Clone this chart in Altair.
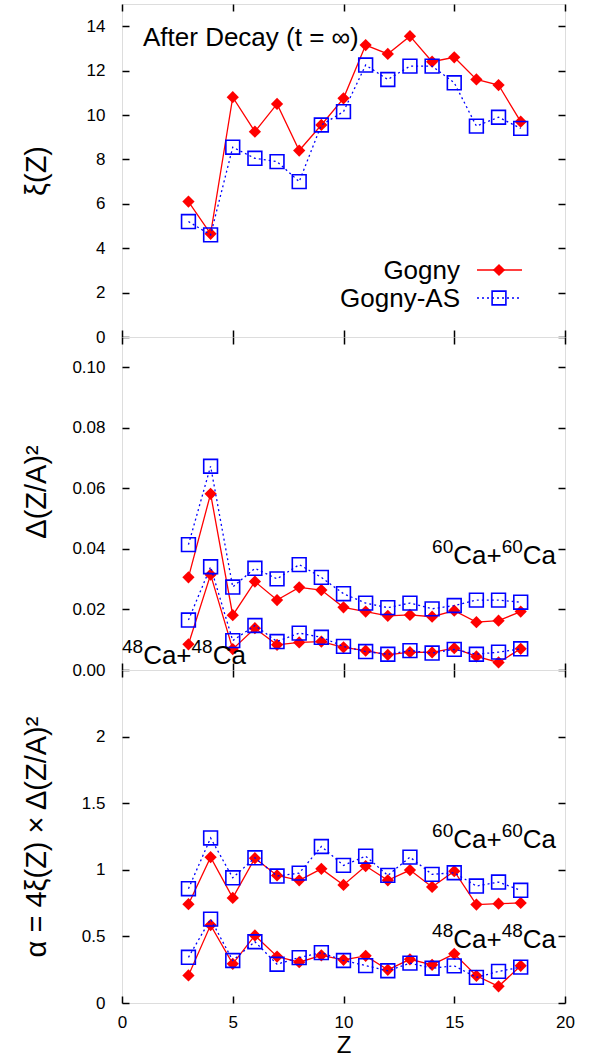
import altair as alt
import pandas as pd

# Fragment charge Z
Z = list(range(3, 19))

# xi(Z) after decay
xi_gogny = [6.1, 4.65, 10.8, 9.25, 10.5, 8.4, 9.55, 10.75, 13.15, 12.75, 13.55, 12.4, 12.6, 11.6, 11.35, 9.7]
xi_as = [5.2, 4.6, 8.55, 8.05, 7.9, 7.0, 9.55, 10.15, 12.25, 11.6, 12.2, 12.2, 11.45, 9.5, 9.9, 9.4]

# Delta(Z/A)^2
d60_gogny = [0.0306, 0.0582, 0.0181, 0.0292, 0.0231, 0.0273, 0.0264, 0.0207,
             0.0193, 0.0179, 0.0182, 0.0176, 0.0196, 0.0158, 0.0163, 0.0193]
d60_as = [0.0414, 0.0673, 0.0274, 0.0336, 0.0301, 0.0348, 0.0306, 0.0252,
          0.0221, 0.0206, 0.0221, 0.0202, 0.0213, 0.0231, 0.0231, 0.0224]
d48_gogny = [0.0085, 0.0315, 0.0069, 0.0138, 0.0083, 0.0091, 0.0094, 0.0075,
             0.0064, 0.0050, 0.0059, 0.0058, 0.0072, 0.0045, 0.0025, 0.0070]
d48_as = [0.0165, 0.0341, 0.0097, 0.0147, 0.0094, 0.0122, 0.0108, 0.0078,
          0.0061, 0.0052, 0.0064, 0.0056, 0.0068, 0.0052, 0.0059, 0.0070]

# alpha = 4 xi(Z) x Delta(Z/A)^2
a60_gogny = [0.742, 1.095, 0.789, 1.087, 0.958, 0.921, 1.007, 0.886,
             1.028, 0.921, 0.998, 0.871, 0.990, 0.739, 0.746, 0.751]
a60_as = [0.858, 1.239, 0.940, 1.090, 0.953, 0.975, 1.175, 1.033,
          1.102, 0.958, 1.095, 0.966, 0.978, 0.878, 0.908, 0.846]
a48_gogny = [0.207, 0.585, 0.294, 0.507, 0.349, 0.306, 0.358, 0.324,
             0.354, 0.249, 0.328, 0.287, 0.369, 0.204, 0.125, 0.279]
a48_as = [0.343, 0.630, 0.319, 0.460, 0.291, 0.341, 0.378, 0.319,
          0.281, 0.242, 0.299, 0.261, 0.279, 0.192, 0.237, 0.269]

x_ticks = [0, 5, 10, 15, 20]
xi_ticks = [0, 2, 4, 6, 8, 10, 12, 14]
d_ticks = [0.0, 0.02, 0.04, 0.06, 0.08, 0.10]
a_ticks = [0, 0.5, 1, 1.5, 2]

FONT = "Liberation Sans"
NARROW = "Liberation Sans Narrow, Liberation Sans"
RED = "#ff0000"
BLUE = "#0000ff"
W, H = 443, 333
TICK = 7


def long_frame(series):
    rows = []
    for model, system, vals in series:
        for z, v in zip(Z, vals):
            rows.append({"Z": z, "value": v, "model": model, "system": system})
    return pd.DataFrame(rows)


def one_text(text, x, y, size, align="left", font=FONT):
    return alt.Chart(pd.DataFrame({"t": [text]})).mark_text(
        align=align, baseline="alphabetic", font=font, fontSize=size, color="black"
    ).encode(text="t:N", x=alt.value(x), y=alt.value(y))


def isotope_pair(mass, x, y, anchor):
    # "^A Ca + ^A Ca" built from main-size and superscript-size pieces
    big, small, rise = 26, 19, 11
    w_sup = 1.112 * small
    w_cap = 1.862 * big
    w_ca = 1.278 * big
    if anchor == "right":
        x0 = x - (w_sup * 2 + w_cap + w_ca)
    else:
        x0 = x
    pieces = [
        (mass, x0, y - rise, small),
        ("Ca+", x0 + w_sup, y, big),
        (mass, x0 + w_sup + w_cap, y - rise, small),
        ("Ca", x0 + 2 * w_sup + w_cap, y, big),
    ]
    return [one_text(t, px, py, s) for t, px, py, s in pieces]


def panel(df, ydom, yvals, yfmt, ytitle, title_shift, bottom, extras):
    xs = alt.Scale(domain=[0, 20], nice=False, zero=False)
    ys = alt.Scale(domain=ydom, nice=False, zero=False)
    common = dict(offset=-TICK, tickSize=TICK, tickWidth=1.5, tickColor="black",
                  domain=False, grid=False, labelFlush=False)
    x_main = alt.Axis(orient="bottom", values=x_ticks, labels=bottom,
                      labelFont=FONT, labelFontSize=17, labelColor="black",
                      labelPadding=11 if bottom else 0,
                      title="Z" if bottom else None,
                      titleFont=FONT, titleFontSize=24, titleFontWeight="normal",
                      titleColor="black", titlePadding=3, **common)
    y_main = alt.Axis(orient="left", values=yvals, format=yfmt,
                      labelFont=FONT, labelFontSize=17, labelColor="black",
                      labelPadding=17,
                      title=ytitle, titleFont=NARROW, titleFontSize=29,
                      titleFontWeight="normal", titleColor="black",
                      titleX=-93, titleY=H / 2 - title_shift, titleAlign="center",
                      titleBaseline="middle", **common)
    x_top = alt.Axis(orient="top", values=x_ticks, labels=False, title=None,
                     labelPadding=0, **common)
    y_right = alt.Axis(orient="right", values=yvals, labels=False, title=None,
                       labelPadding=0, **common)

    gog = df[df.model == "Gogny"]
    gas = df[df.model == "Gogny-AS"]

    red_line = alt.Chart(gog).mark_line(color=RED, strokeWidth=1.3).encode(
        x=alt.X("Z:Q", scale=xs, axis=x_main),
        y=alt.Y("value:Q", scale=ys, axis=y_main),
        detail="system:N",
    )
    red_pts = alt.Chart(gog).mark_point(shape="diamond", filled=True, size=150,
                                        color=RED, opacity=1).encode(
        x=alt.X("Z:Q", scale=xs, axis=None),
        y=alt.Y("value:Q", scale=ys, axis=None),
    )
    blue_line = alt.Chart(gas).mark_line(color=BLUE, strokeWidth=1.3,
                                         strokeDash=[2, 3]).encode(
        x=alt.X("Z:Q", scale=xs, axis=None),
        y=alt.Y("value:Q", scale=ys, axis=None),
        detail="system:N",
    )
    blue_pts = alt.Chart(gas).mark_point(shape="square", filled=False, size=190,
                                         color=BLUE, strokeWidth=1.6, opacity=1).encode(
        x=alt.X("Z:Q", scale=xs, axis=x_top),
        y=alt.Y("value:Q", scale=ys, axis=y_right),
    )
    return alt.layer(red_line, red_pts, blue_line, blue_pts, *extras).resolve_axis(
        x="independent", y="independent"
    ).properties(width=W, height=H)


# Top panel: xi(Z) with the legend and heading
df_xi = long_frame([("Gogny", "all", xi_gogny), ("Gogny-AS", "all", xi_as)])
legend = [
    one_text("After Decay (t = \u221e)", 21, 42, 26),
    one_text("Gogny", 338, 275, 26, align="right"),
    one_text("Gogny-AS", 338, 303, 26, align="right"),
    alt.Chart(pd.DataFrame({"k": [0]})).mark_rule(color=RED, strokeWidth=1.3).encode(
        x=alt.value(355), x2=alt.value(400), y=alt.value(266)),
    alt.Chart(pd.DataFrame({"k": [0]})).mark_point(
        shape="diamond", filled=True, size=150, color=RED, opacity=1).encode(
        x=alt.value(377), y=alt.value(266)),
    alt.Chart(pd.DataFrame({"k": [0]})).mark_rule(
        color=BLUE, strokeWidth=1.3, strokeDash=[2, 3]).encode(
        x=alt.value(355), x2=alt.value(400), y=alt.value(294)),
    alt.Chart(pd.DataFrame({"k": [0]})).mark_point(
        shape="square", filled=False, size=190, color=BLUE, strokeWidth=1.6,
        opacity=1).encode(x=alt.value(377), y=alt.value(294)),
]
p1 = panel(df_xi, [0, 15], xi_ticks, "d", "\u03be(Z)", 0, False, legend)

# Middle panel: Delta(Z/A)^2
df_d = long_frame([
    ("Gogny", "60", d60_gogny), ("Gogny-AS", "60", d60_as),
    ("Gogny", "48", d48_gogny), ("Gogny-AS", "48", d48_as),
])
p2 = panel(df_d, [0, 0.11], d_ticks, ".2f", "\u0394(Z/A)\u00b2", 12, False,
           isotope_pair("60", 434, 227, "right") + isotope_pair("48", 0, 327, "left"))

# Bottom panel: alpha
df_a = long_frame([
    ("Gogny", "60", a60_gogny), ("Gogny-AS", "60", a60_as),
    ("Gogny", "48", a48_gogny), ("Gogny-AS", "48", a48_as),
])
p3 = panel(df_a, [0, 2.5], a_ticks, "~g",
           "\u03b1 = 4\u03be(Z) \u00d7 \u0394(Z/A)\u00b2", 0, True,
           isotope_pair("60", 434, 178, "right") + isotope_pair("48", 434, 278, "right"))

chart = alt.vconcat(p1, p2, p3, spacing=0, bounds="flush").properties(
    padding={"left": 21, "top": 2, "right": 0, "bottom": 0}
).configure_view(stroke="black", strokeWidth=2.5).configure(background="white")

chart.save("out.html", embed_options={"renderer": "svg", "actions": False})
